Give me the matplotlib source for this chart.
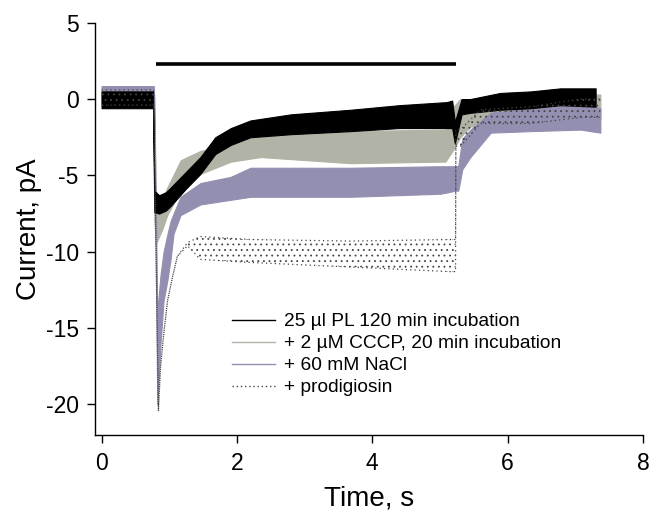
import matplotlib
matplotlib.use("Agg")
import matplotlib.pyplot as plt

plt.rcParams['font.family'] = ['Liberation Sans', 'DejaVu Sans']
plt.rcParams['hatch.linewidth'] = 0.6
plt.rcParams['axes.unicode_minus'] = False

# ---- data: time (s), lower / upper envelope (pA) ----
pl_t    = [0.00, 0.76, 0.78, 0.85, 0.95, 1.02, 1.24, 1.46, 1.68, 1.91, 2.20, 2.80, 3.68, 4.40, 5.10, 5.18, 5.22, 5.32, 5.45, 5.89, 6.34, 6.78, 7.30]
pl_lo   = [-0.6, -0.6, -7.4, -7.5, -7.3, -7.0, -5.9, -4.9, -3.6, -3.0, -2.5, -2.3, -2.1, -1.9, -1.9, -1.9, -2.9, -1.0, -0.9, -0.7, -0.6, -0.4, -0.5]
pl_hi   = [0.5, 0.5, -6.0, -6.3, -6.1, -5.8, -4.8, -3.8, -2.5, -1.9, -1.4, -1.0, -0.7, -0.4, -0.2, -0.1, -1.5, 0.0, 0.0, 0.4, 0.5, 0.7, 0.7]

cccp_t  = [0.00, 0.76, 0.78, 0.80, 0.90, 0.97, 1.17, 1.46, 1.91, 2.35, 3.68, 5.01, 5.08, 5.20, 5.30, 5.45, 5.90, 7.37]
cccp_lo = [-0.55, -0.55, -8.0, -9.5, -8.5, -7.6, -6.0, -4.9, -4.1, -3.8, -4.2, -4.1, -4.1, -3.3, -2.5, -1.8, -1.6, -1.3]
cccp_hi = [0.5, 0.5, -1.0, -7.0, -6.5, -5.8, -4.0, -3.4, -2.9, -2.3, -2.1, -2.0, -2.0, -0.5, 0.0, 0.0, 0.2, 0.3]

nacl_t  = [0.00, 0.77, 0.78, 0.823, 0.871, 0.916, 0.975, 1.019, 1.064, 1.167, 1.462, 1.905, 2.20, 3.68, 5.01, 5.23, 5.27, 5.33, 5.45, 5.75, 6.34, 7.08, 7.37]
nacl_lo = [-0.25, -0.25, -2.0, -20.0, -16.0, -13.2, -11.8, -10.5, -8.8, -7.6, -6.9, -6.6, -6.4, -6.4, -6.2, -6.0, -6.0, -4.6, -3.8, -2.2, -2.1, -2.0, -2.2]
nacl_hi = [0.85, 0.85, 0.0, -14.0, -11.5, -10.0, -8.8, -8.0, -7.5, -6.4, -5.5, -5.1, -4.5, -4.5, -4.4, -4.4, -4.4, -2.6, -2.0, -0.9, -0.6, -0.3, -0.6]

prod_t  = [0.00, 0.77, 0.84, 0.87, 0.92, 0.975, 1.05, 1.12, 1.27, 1.46, 2.20, 3.68, 5.15, 5.23, 5.235, 5.30, 5.60, 6.34, 7.08, 7.37]
prod_lo = [-0.4, -0.4, -20.4, -17.6, -15.3, -13.2, -11.6, -10.3, -9.6, -10.5, -10.7, -11.0, -11.3, -11.3, -3.1, -3.1, -1.6, -1.6, -1.2, -1.2]
prod_hi = [0.6, 0.6, -20.4, -17.6, -15.3, -13.2, -11.6, -10.3, -9.4, -9.0, -9.2, -9.3, -9.2, -9.2, -2.0, -2.0, -0.7, -0.5, 0.0, 0.0]

bar_t = [0.80, 5.24]
bar_y = [2.28, 2.28]

labels = ['25 µl PL 120 min incubation', '+ 2 µM CCCP, 20 min incubation',
          '+ 60 mM NaCl', '+ prodigiosin']
x_ticks = [0, 2, 4, 6, 8]
y_ticks = [5, 0, -5, -10, -15, -20]

# ---- style ----
c_pl = '#000000'
c_cccp = '#b1b3a6'
c_nacl = '#928fb0'
c_prod = '#444444'

fig = plt.figure(figsize=(6.52, 5.12), dpi=100)
ax = fig.add_axes([95.5/652, 1 - 435/512, (643 - 95.5)/652, (435 - 22.7)/512])

ax.fill_between(cccp_t, cccp_lo, cccp_hi, color=c_cccp, lw=0.8, zorder=2)
ax.fill_between(nacl_t, nacl_lo, nacl_hi, color=c_nacl, lw=0.8, zorder=3)
ax.fill_between(pl_t, pl_lo, pl_hi, color=c_pl, lw=0.8, zorder=4)
ax.fill_between(prod_t, prod_lo, prod_hi, facecolor='none', edgecolor=c_prod,
                hatch='...', lw=0, zorder=5)
ax.plot(prod_t, prod_lo, color=c_prod, ls=(0, (1, 2.5)), lw=0.9, zorder=5)
ax.plot(prod_t, prod_hi, color=c_prod, ls=(0, (1, 2.5)), lw=0.9, zorder=5)

ax.plot(bar_t, bar_y, color='black', lw=2.6, solid_capstyle='butt', zorder=6)

h1, = ax.plot([], [], color=c_pl, lw=1.0)
h2, = ax.plot([], [], color=c_cccp, lw=1.0)
h3, = ax.plot([], [], color=c_nacl, lw=1.0)
h4, = ax.plot([], [], color=c_prod, lw=1.0, ls=(0, (1, 2)))
ax.legend([h1, h2, h3, h4], labels, loc='upper left', bbox_to_anchor=(0.249, 0.296),
          frameon=False, fontsize=13.8, handlelength=2.25, handletextpad=0.45,
          labelspacing=0.24, borderpad=0, borderaxespad=0)

ax.set_xlim(-0.09, 8)
ax.set_ylim(-22, 5)
ax.set_xticks(x_ticks)
ax.set_yticks(y_ticks)
ax.tick_params(direction='out', length=6, width=1, labelsize=16.5, pad=6)
for s in ['top', 'right']:
    ax.spines[s].set_visible(False)
for s in ['left', 'bottom']:
    ax.spines[s].set_linewidth(1)
ax.set_xlabel('Time, s', fontsize=20, labelpad=8)
ax.set_ylabel('Current, pA', fontsize=20, labelpad=3)

fig.savefig('out.png', dpi=100)
